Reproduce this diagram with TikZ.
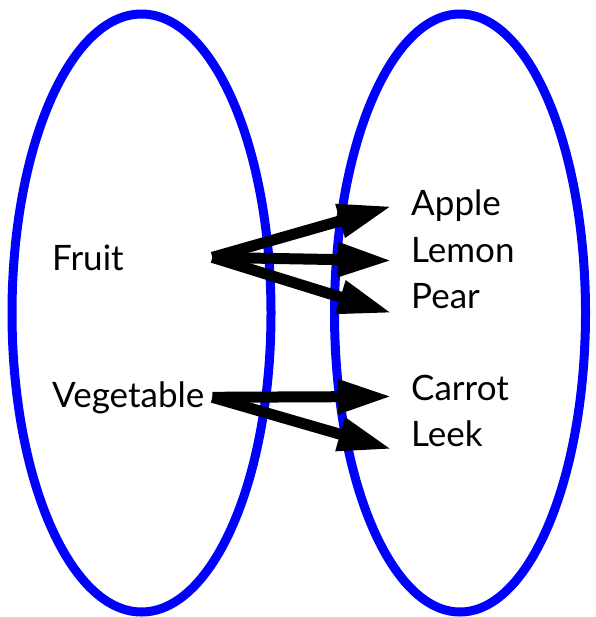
\documentclass[tikz,border=0pt]{standalone}
\usepackage{fontspec}
\setmainfont{Lato}
\usetikzlibrary{arrows.meta}

\begin{document}
\begin{tikzpicture}[x=1pt, y=-1pt, every node/.style={font=\fontsize{35}{40}\selectfont, inner sep=0pt}, set/.style={draw=blue,line width=9pt}, kind/.style={anchor=base west,text width=160pt,align=left}, item/.style={anchor=base west}, arr/.style={-{Triangle[length=54pt,width=32pt]},line width=11pt}]
\useasboundingbox (0,0) rectangle (595,617);
\draw[set] (141.5,313) ellipse [x radius=129.5pt, y radius=299pt];
\draw[set] (460,313) ellipse [x radius=125.5pt, y radius=299pt];
\node[kind] (fruit) at (52,270) {Fruit};
\node[kind] (veg) at (52,407) {Vegetable};
\node[item] (apple) at (411,216) {Apple};
\node[item] (lemon) at (411,262) {Lemon};
\node[item] (pear) at (411,308) {Pear};
\node[item] (carrot) at (411,400) {Carrot};
\node[item] (leek) at (411,446) {Leek};
\draw[arr] (fruit.east) -- ([xshift=-19pt]apple.west);
\draw[arr] (fruit.east) -- ([xshift=-19pt,yshift=-11pt]lemon.west);
\draw[arr] (fruit.east) -- ([xshift=-19pt,yshift=-17.5pt]pear.west);
\draw[arr] (veg.east) -- ([xshift=-19pt,yshift=-9pt]carrot.west);
\draw[arr] (veg.east) -- ([xshift=-19pt,yshift=-16pt]leek.west);
\end{tikzpicture}
\end{document}
